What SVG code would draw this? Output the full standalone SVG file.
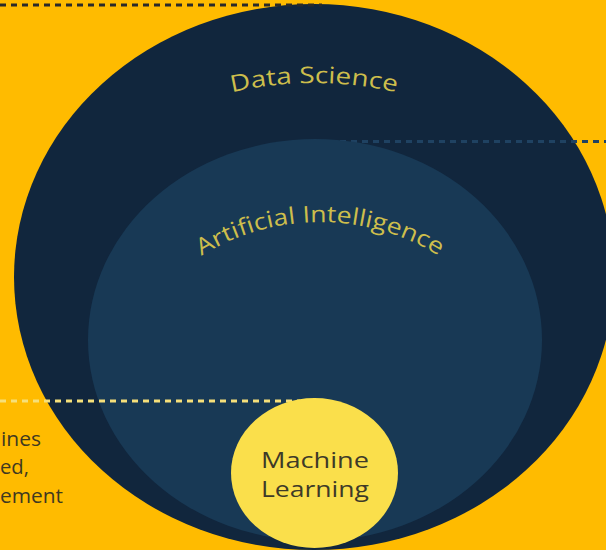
<svg xmlns="http://www.w3.org/2000/svg" width="606" height="550" viewBox="0 0 606 550">
  <style>
    .lbl { font-family: "Open Sans", "Liberation Sans", sans-serif; font-weight: 400; }
    .arc { fill: #CDBE4C; font-size: 23px; }
    .ml { fill: #3E3A28; font-size: 21px; text-anchor: middle; }
    .side { fill: #3F3920; font-size: 20px; font-weight: 500; }
    .dot { fill: none; stroke-width: 3.2; stroke-dasharray: 6 5; }
  </style>
  <defs>
    <path id="dsArc" d="M -51 448 A 365 365 0 0 1 679 448"/>
    <path id="aiArc" d="M 94 448 A 226 226 0 0 1 546 448"/>
  </defs>
  <rect width="606" height="550" fill="#FFBB00"/>

  <g id="node-data-science">
    <ellipse cx="314" cy="277" rx="300" ry="273" fill="#11263D"/>
    <text class="lbl arc"><textPath href="#dsArc" startOffset="50%" text-anchor="middle" textLength="166" lengthAdjust="spacingAndGlyphs">Data Science</textPath></text>
  </g>

  <g id="connectors">
    <line class="dot" x1="0" y1="5" x2="322" y2="5" stroke="#2A2A2A"/>
    <line class="dot" x1="340" y1="141.5" x2="606" y2="141.5" stroke="#1F4262"/>
  </g>

  <g id="node-ai">
    <ellipse cx="315" cy="340" rx="227" ry="201" fill="#183955"/>
    <text class="lbl arc"><textPath href="#aiArc" startOffset="50%" text-anchor="middle" textLength="250" lengthAdjust="spacingAndGlyphs">Artificial Intelligence</textPath></text>
  </g>

  <g id="connector-ml">
    <line class="dot" x1="0" y1="401" x2="300" y2="401" stroke="#F6E07A"/>
  </g>

  <g id="node-ml">
    <ellipse cx="314.5" cy="473" rx="83.5" ry="75" fill="#FADF4B"/>
    <text class="lbl ml" x="315" y="468" textLength="108" lengthAdjust="spacingAndGlyphs">Machine</text>
    <text class="lbl ml" x="315" y="497" textLength="108" lengthAdjust="spacingAndGlyphs">Learning</text>
  </g>

  <g id="side-text">
    <text class="lbl side" x="1" y="446" textLength="40" lengthAdjust="spacingAndGlyphs">ines</text>
    <text class="lbl side" x="0" y="474" textLength="29" lengthAdjust="spacingAndGlyphs">ed,</text>
    <text class="lbl side" x="0" y="503" textLength="63" lengthAdjust="spacingAndGlyphs">ement</text>
  </g>
</svg>
